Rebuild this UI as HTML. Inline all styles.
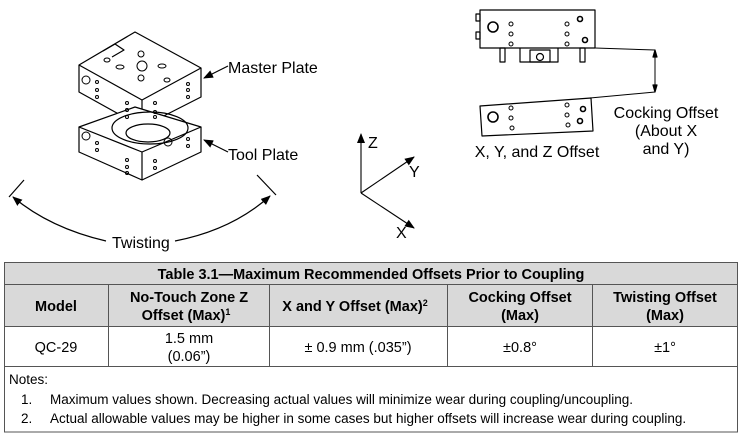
<!DOCTYPE html>
<html><head><meta charset="utf-8"><style>
html,body{margin:0;padding:0;background:#fff;}
body{width:743px;height:443px;position:relative;overflow:hidden;font-family:"Liberation Sans",Arial,sans-serif;}
svg{position:absolute;left:0;top:0;}
</style></head><body>
<svg width="743" height="443" viewBox="0 0 743 443" font-family="Liberation Sans, Arial, sans-serif">
<defs>
<marker id="ar" markerWidth="10" markerHeight="8" refX="9" refY="4" orient="auto" markerUnits="userSpaceOnUse"><path d="M0,0 L10,4 L0,8 z" fill="#000"/></marker>
</defs>
<g fill="none" stroke="#000" stroke-width="1.2" stroke-linejoin="round">
<path d="M79,65 L135,32 L201,68 L142,100 Z" fill="#fff"/>
<path d="M79,65 L79,92 L142,127 L142,100"/>
<path d="M142,127 L201,97 L201,68"/>
<path d="M103,51 L115,44 L124,50 L112,57" />
<path d="M79,127 L135,107 L201,127 L142,152 Z" fill="#fff"/>
<path d="M79,127 L79,152 L142,180 L142,152"/>
<path d="M142,180 L201,152 L201,127"/>
<ellipse cx="150" cy="128" rx="38" ry="16"/>
<ellipse cx="148" cy="133" rx="22" ry="9"/>
<g stroke-width="1">
<circle cx="142" cy="66" r="5"/><circle cx="141" cy="54" r="3"/><circle cx="141" cy="78" r="3"/>
<ellipse cx="120" cy="67" rx="4" ry="2"/><ellipse cx="162" cy="66" rx="4" ry="2"/>
<ellipse cx="107" cy="60" rx="3" ry="2"/><ellipse cx="167" cy="80" rx="3" ry="2"/>
<circle cx="86" cy="80" r="4"/><circle cx="86" cy="136" r="4"/>
<circle cx="97" cy="82" r="1.5"/><circle cx="97" cy="90" r="1.5"/><circle cx="97" cy="97" r="1.5"/>
<circle cx="127" cy="103" r="1.5"/><circle cx="127" cy="110" r="1.5"/><circle cx="127" cy="117" r="1.5"/>
<circle cx="155" cy="103" r="1.5"/><circle cx="155" cy="112" r="1.5"/><circle cx="155" cy="117" r="1.5"/>
<circle cx="188" cy="84" r="1.5"/><circle cx="188" cy="90" r="1.5"/><circle cx="188" cy="97" r="1.5"/>
<circle cx="97" cy="143" r="1.5"/><circle cx="97" cy="150" r="1.5"/>
<circle cx="127" cy="160" r="1.5"/><circle cx="127" cy="167" r="1.5"/><circle cx="127" cy="173" r="1.5"/>
<circle cx="155" cy="161" r="1.5"/><circle cx="155" cy="168" r="1.5"/>
<circle cx="188" cy="139" r="1.5"/><circle cx="188" cy="146" r="1.5"/>
<circle cx="168" cy="142" r="4"/>
</g>
<line x1="228" y1="66" x2="204" y2="78" marker-end="url(#ar)"/>
<line x1="228" y1="152" x2="204" y2="140" marker-end="url(#ar)"/>
<line x1="24" y1="180" x2="9" y2="197"/>
<line x1="257" y1="175" x2="276" y2="195"/>
<path d="M106,241 Q50,228 13,197" marker-end="url(#ar)"/>
<path d="M175,241 Q232,230 270,196" marker-end="url(#ar)"/>
<g stroke-width="1.1">
<line x1="361" y1="193" x2="361" y2="134" marker-end="url(#ar)"/>
<line x1="361" y1="193" x2="414" y2="157" marker-end="url(#ar)"/>
<line x1="361" y1="193" x2="414" y2="228" marker-end="url(#ar)"/>
</g>
<rect x="480" y="10" width="115" height="38" fill="#fff"/>
<rect x="476" y="14" width="4" height="7"/><rect x="476" y="32" width="4" height="7"/>
<circle cx="493" cy="27" r="5" stroke-width="1.6"/>
<g stroke-width="1"><circle cx="511" cy="24" r="2"/><circle cx="511" cy="34" r="2"/><circle cx="511" cy="44" r="2"/>
<circle cx="567" cy="24" r="2"/><circle cx="567" cy="34" r="2"/><circle cx="567" cy="44" r="2"/></g>
<circle cx="580" cy="19" r="2.5" stroke-width="1.6"/><circle cx="585" cy="40" r="2.5" stroke-width="1.6"/>
<rect x="500" y="48" width="5" height="14"/><rect x="580" y="48" width="5" height="14"/>
<path d="M520,48 L520,62 L558,62 L558,48"/><rect x="530" y="50" width="20" height="12"/><circle cx="540" cy="57" r="3.5"/>
<line x1="595" y1="48" x2="655" y2="50" stroke-width="1"/>
<line x1="655" y1="50" x2="655" y2="92" stroke-width="1"/>
<path d="M655,50 l-2,7 l4,0 z M655,92 l-2,-7 l4,0 z" fill="#000"/>
<line x1="590" y1="98" x2="655" y2="92" stroke-width="1"/>
<path d="M480,106 L591,98 L593,131 L482,136 Z" fill="#fff"/>
<circle cx="493" cy="117" r="5" stroke-width="1.6"/>
<g stroke-width="1"><circle cx="511" cy="108" r="2"/><circle cx="511" cy="118" r="2"/><circle cx="512" cy="128" r="2"/>
<circle cx="567" cy="105" r="2"/><circle cx="567" cy="115" r="2"/><circle cx="568" cy="125" r="2"/></g>
<circle cx="583" cy="109" r="2.5" stroke-width="1.6"/><circle cx="580" cy="121" r="2.5" stroke-width="1.6"/>
</g>
<g font-size="16" fill="#000">
<text x="228" y="73">Master Plate</text>
<text x="228" y="160">Tool Plate</text>
<text x="112" y="248">Twisting</text>
<text x="368" y="148">Z</text>
<text x="409" y="177">Y</text>
<text x="396" y="238">X</text>
<text x="537" y="157" text-anchor="middle">X, Y, and Z Offset</text>
<text x="666" y="118" text-anchor="middle">Cocking Offset</text>
<text x="666" y="136" text-anchor="middle">(About X</text>
<text x="666" y="154" text-anchor="middle">and Y)</text>
</g>
<rect x="4.5" y="262.5" width="733" height="63.5" fill="#d9d9d9"/>
<g stroke="#555" stroke-width="1" fill="none">
<rect x="4.5" y="262.5" width="733" height="169.5"/>
<line x1="4.5" y1="284.5" x2="737.5" y2="284.5"/>
<line x1="4.5" y1="326.5" x2="737.5" y2="326.5"/>
<line x1="4.5" y1="366.5" x2="737.5" y2="366.5"/>
<line x1="108.5" y1="284.5" x2="108.5" y2="366.5"/>
<line x1="269.5" y1="284.5" x2="269.5" y2="366.5"/>
<line x1="447.5" y1="284.5" x2="447.5" y2="366.5"/>
<line x1="592.5" y1="284.5" x2="592.5" y2="366.5"/>
</g>
<g font-size="14.5" fill="#000" text-anchor="middle">
<g font-weight="bold">
<text x="371" y="279">Table 3.1—Maximum Recommended Offsets Prior to Coupling</text>
<text x="56" y="311">Model</text>
<text x="189" y="302">No-Touch Zone Z</text>
<text x="186" y="320">Offset (Max)<tspan font-size="9" dy="-5">1</tspan></text>
<text x="355" y="311">X and Y Offset (Max)<tspan font-size="9" dy="-5">2</tspan></text>
<text x="520" y="302">Cocking Offset</text>
<text x="520" y="320">(Max)</text>
<text x="665" y="302">Twisting Offset</text>
<text x="665" y="320">(Max)</text>
</g>
<text x="56" y="352">QC-29</text>
<text x="189" y="343">1.5 mm</text>
<text x="189" y="361">(0.06”)</text>
<text x="358" y="352">± 0.9 mm (.035”)</text>
<text x="520" y="352">±0.8°</text>
<text x="665" y="352">±1°</text>
</g>
<g font-size="13.5" fill="#000">
<text x="9" y="384">Notes:</text>
<text x="21" y="404">1.</text>
<text x="50" y="404">Maximum values shown. Decreasing actual values will minimize wear during coupling/uncoupling.</text>
<text x="21" y="423">2.</text>
<text x="50" y="423">Actual allowable values may be higher in some cases but higher offsets will increase wear during coupling.</text>
</g>
</svg>
</body></html>
